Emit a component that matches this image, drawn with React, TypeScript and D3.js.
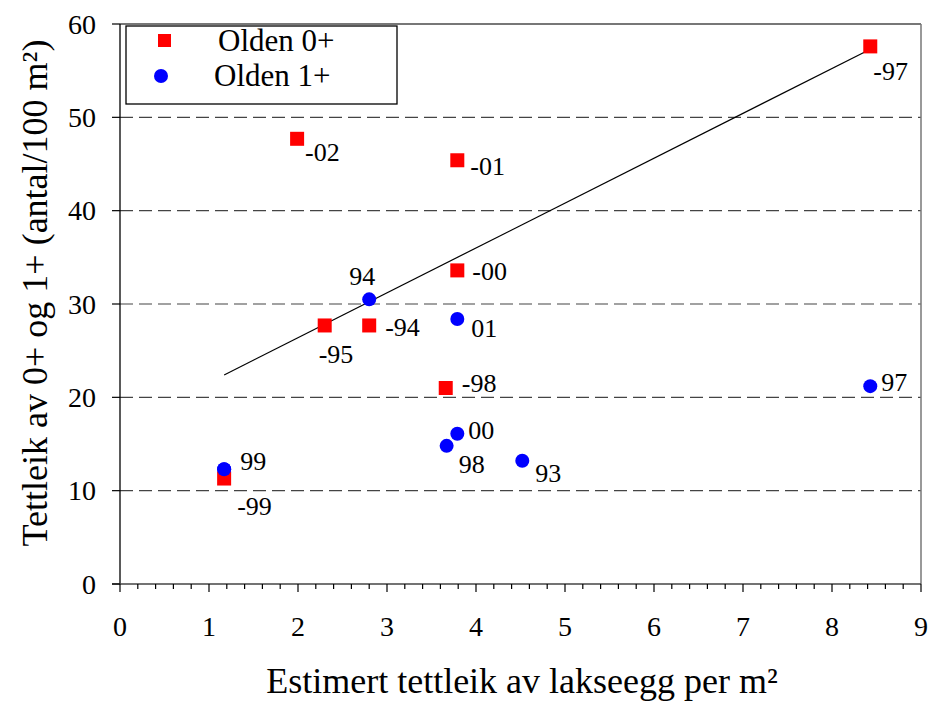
import React from "react";
import * as d3 from "d3";

const xTicks = [0, 1, 2, 3, 4, 5, 6, 7, 8, 9];
const yTicks = [0, 10, 20, 30, 40, 50, 60];
const gridValues = [10, 20, 30, 40, 50];

// Olden 0+ (red squares)
const s0Labels = ["-97", "-02", "-01", "-00", "-95", "-94", "-98", "-99"];
const s0X = [8.43, 1.99, 3.79, 3.79, 2.30, 2.80, 3.66, 1.17];
const s0Y = [57.6, 47.7, 45.4, 33.6, 27.7, 27.7, 21.0, 11.3];

// Olden 1+ (blue circles)
const s1Labels = ["94", "01", "97", "00", "98", "93", "99"];
const s1X = [2.80, 3.79, 8.43, 3.79, 3.67, 4.52, 1.17];
const s1Y = [30.5, 28.4, 21.2, 16.1, 14.8, 13.2, 12.3];

// Trend line endpoints
const trendX = [1.17, 8.43];
const trendY = [22.4, 57.3];

// label offsets (px) relative to the point: [dx, dy]
const s0Off: [number, number][] = [
  [3, 34],
  [8, 22],
  [13, 15],
  [15, 10],
  [-6, 38],
  [16, 11],
  [16, 4],
  [13, 36],
];
const s1Off: [number, number][] = [
  [-20, -14],
  [14, 18],
  [11, 5],
  [11, 5],
  [12, 27],
  [13, 21],
  [16, 1],
];

const FONT = "Liberation Serif, Times New Roman, DejaVu Serif, serif";
const ts = { fontFamily: FONT };

export default function App() {
  const W = 931, H = 702;
  const x = d3.scaleLinear().domain([0, 9]).range([120, 921]);
  const y = d3.scaleLinear().domain([0, 60]).range([584, 24]);
  const minor = d3.range(0, 9.0001, 0.2);
  const line = d3.line<[number, number]>().x(d => x(d[0])).y(d => y(d[1]));
  const trend: [number, number][] = trendX.map((v, i) => [v, trendY[i]]);

  React.useEffect(() => {
    document.body.style.margin = "0";
  }, []);

  return (
    <svg width={W} height={H} style={{ display: "block", background: "#fff" }}>
      {/* grid */}
      {gridValues.map(v => (
        <line key={"g" + v} x1={x(0)} x2={x(9)} y1={y(v)} y2={y(v)}
          stroke="#444" strokeWidth={1.2} strokeDasharray="13 6" />
      ))}
      {/* frame */}
      <line x1={x(0)} x2={x(9)} y1={y(60)} y2={y(60)} stroke="#777" strokeWidth={2} />
      <line x1={x(9)} x2={x(9)} y1={y(60)} y2={y(0)} stroke="#777" strokeWidth={1.5} />
      <line x1={x(0)} x2={x(0)} y1={y(60)} y2={y(0)} stroke="#000" strokeWidth={1.3} />
      <line x1={x(0) - 8} x2={x(9)} y1={y(0)} y2={y(0)} stroke="#444" strokeWidth={1.6} />
      {/* y ticks */}
      {yTicks.map(v => (
        <g key={"y" + v}>
          <line x1={x(0) - 8} x2={x(0)} y1={y(v)} y2={y(v)} stroke="#000" strokeWidth={1.2} />
          <text x={96} y={y(v)} dy="0.35em" textAnchor="end" fontSize={28} style={ts}>{v}</text>
        </g>
      ))}
      {/* x ticks */}
      {minor.map((v, i) => (
        <line key={"m" + i} x1={x(v)} x2={x(v)} y1={y(0)} y2={y(0) + (i % 5 === 0 ? 8 : 5)}
          stroke="#000" strokeWidth={1.2} />
      ))}
      {xTicks.map(v => (
        <text key={"xt" + v} x={x(v)} y={636} textAnchor="middle" fontSize={28} style={ts}>{v}</text>
      ))}
      {/* axis titles */}
      <text x={522} y={693} textAnchor="middle" fontSize={36} style={ts}>Estimert tettleik av lakseegg per m²</text>
      <text transform={`translate(47,${293}) rotate(-90)`} textAnchor="middle" fontSize={36} style={ts}>
        Tettleik av 0+ og 1+ (antal/100 m²)
      </text>
      {/* trend */}
      <path d={line(trend) || ""} fill="none" stroke="#000" strokeWidth={1.2} />
      {/* points 1+ */}
      {s1X.map((v, i) => (
        <circle key={"c" + i} cx={x(v)} cy={y(s1Y[i])} r={7} fill="#0000ff" />
      ))}
      {/* points 0+ */}
      {s0X.map((v, i) => (
        <rect key={"r" + i} x={x(v) - 7} y={y(s0Y[i]) - 7} width={14} height={14} fill="#ff0000" />
      ))}
      {/* blue 99 drawn above red -99 */}
      <circle cx={x(s1X[6])} cy={y(s1Y[6])} r={7} fill="#0000ff" />
      {/* labels */}
      {s0Labels.map((l, i) => (
        <text key={"l0" + i} x={x(s0X[i]) + s0Off[i][0]} y={y(s0Y[i]) + s0Off[i][1]}
          fontSize={26} style={ts}>{l}</text>
      ))}
      {s1Labels.map((l, i) => (
        <text key={"l1" + i} x={x(s1X[i]) + s1Off[i][0]} y={y(s1Y[i]) + s1Off[i][1]}
          fontSize={26} style={ts}>{l}</text>
      ))}
      {/* legend */}
      <rect x={126} y={26} width={271} height={78} fill="#fff" stroke="#000" strokeWidth={1.3} />
      <rect x={158} y={34} width={13} height={13} fill="#ff0000" />
      <text x={218} y={51} fontSize={31} style={ts}>Olden 0+</text>
      <circle cx={161} cy={76} r={7} fill="#0000ff" />
      <text x={214} y={86} fontSize={31} style={ts}>Olden 1+</text>
    </svg>
  );
}
